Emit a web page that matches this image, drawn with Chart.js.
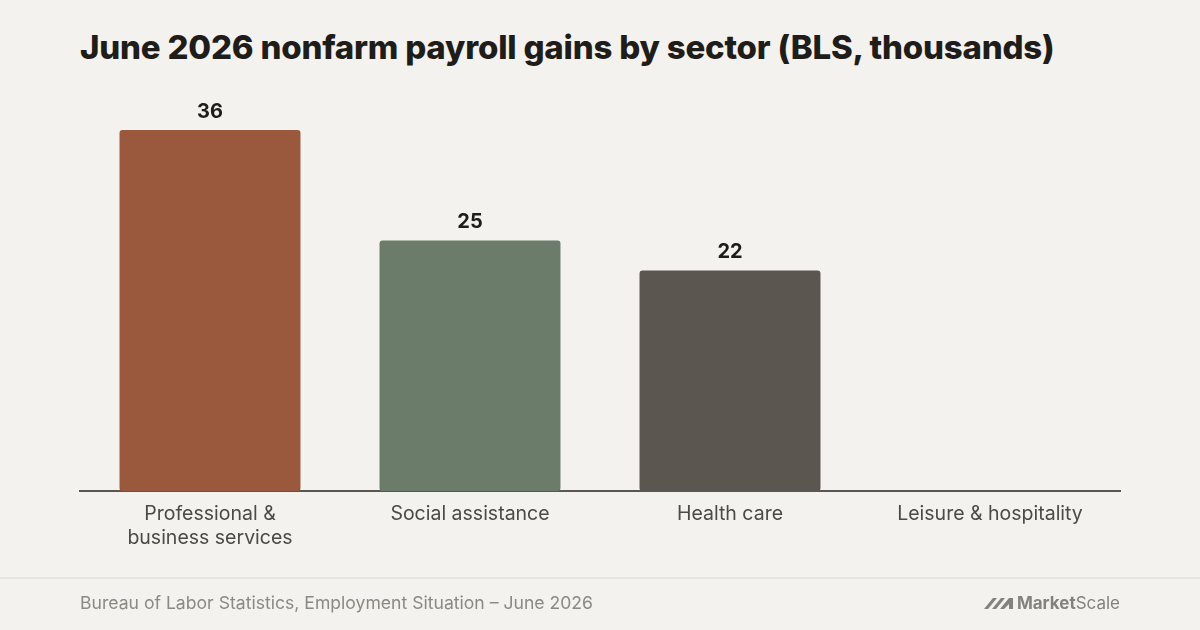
<!DOCTYPE html>
<html>
<head>
<meta charset="utf-8">
<script src="https://cdn.jsdelivr.net/npm/chart.js@4"></script>
<style>
  html, body { margin: 0; padding: 0; background: #f4f2ee; }
  body { width: 1200px; height: 630px; position: relative; overflow: hidden; font-family: Inter, "Noto Sans", sans-serif; }
  h1 { position: absolute; left: 80px; top: 27px; margin: 0; font-size: 33px; line-height: 40px; font-weight: 800; color: #1f1d1a; letter-spacing: -0.2px; }
  #wrap { position: absolute; left: 0; top: 0; width: 1200px; height: 630px; }
  .rule { position: absolute; left: 0; top: 577px; width: 1200px; height: 2px; background: #e7e4df; }
  .source { position: absolute; left: 80px; top: 592px; font-size: 17.6px; color: #8c8882; }
  .logo { position: absolute; right: 80px; top: 593px; font-size: 17px; color: #85827d; display: flex; align-items: center; gap: 3px; }
  .logo b { font-weight: 700; }
</style>
</head>
<body>
<h1>June 2026 nonfarm payroll gains by sector (BLS, thousands)</h1>
<div id="wrap"><canvas id="payrollChart" width="1200" height="630"></canvas></div>
<div class="rule"></div>
<div class="source">Bureau of Labor Statistics, Employment Situation – June 2026</div>
<div class="logo">
  <svg width="30" height="14" viewBox="0 0 30 14"><path d="M0 13 L9 2 L13 2 L4 13 Z M8 13 L17 2 L21 2 L12 13 Z M16 13 L25 2 L29 2 L29 13 L25 13 L25 8 L20 13 Z" fill="#85827d"/></svg>
  <span><b>Market</b>Scale</span>
</div>
<script>
const sectors = [['Professional &', 'business services'], 'Social assistance', 'Health care', 'Leisure & hospitality'];
const gains = [36, 25, 22, 0];
const barColors = ['#9a583c', '#6b7c6a', '#5b5650', '#5b5650'];

// value labels above each bar (skip zero)
const valueLabels = {
  id: 'valueLabels',
  afterDatasetsDraw(chart) {
    const ctx = chart.ctx;
    const meta = chart.getDatasetMeta(0);
    ctx.save();
    ctx.font = '700 20px Inter, "Noto Sans", sans-serif';
    ctx.fillStyle = '#1f1d1a';
    ctx.textAlign = 'center';
    ctx.textBaseline = 'bottom';
    meta.data.forEach((bar, i) => {
      if (!gains[i]) return;
      ctx.fillText(gains[i], bar.x, bar.y - 8);
    });
    ctx.restore();
  }
};

const ctx = document.getElementById('payrollChart').getContext('2d');
const chart = new Chart(ctx, {
  type: 'bar',
  data: {
    labels: sectors,
    datasets: [{
      data: gains,
      backgroundColor: barColors,
      borderRadius: 3,
      borderSkipped: false,
      categoryPercentage: 1,
      barPercentage: 0.696
    }]
  },
  options: {
    responsive: false,
    animation: false,
    layout: { padding: { left: 80, right: 80, top: 90, bottom: 0 } },
    plugins: { legend: { display: false }, tooltip: { enabled: false }, title: { display: false } },
    scales: {
      x: {
        grid: { display: false },
        border: { display: true, color: '#5b5650', width: 2 },
        ticks: {
          color: '#4d4944',
          font: { family: 'Inter, "Noto Sans", sans-serif', size: 19.5, lineHeight: 1.22 },
          padding: 3,
          maxRotation: 0
        },
        afterFit(scale) { scale.height = 139; }
      },
      y: {
        display: false,
        min: 0,
        max: 40
      }
    }
  },
  plugins: [valueLabels]
});
</script>
</body>
</html>
